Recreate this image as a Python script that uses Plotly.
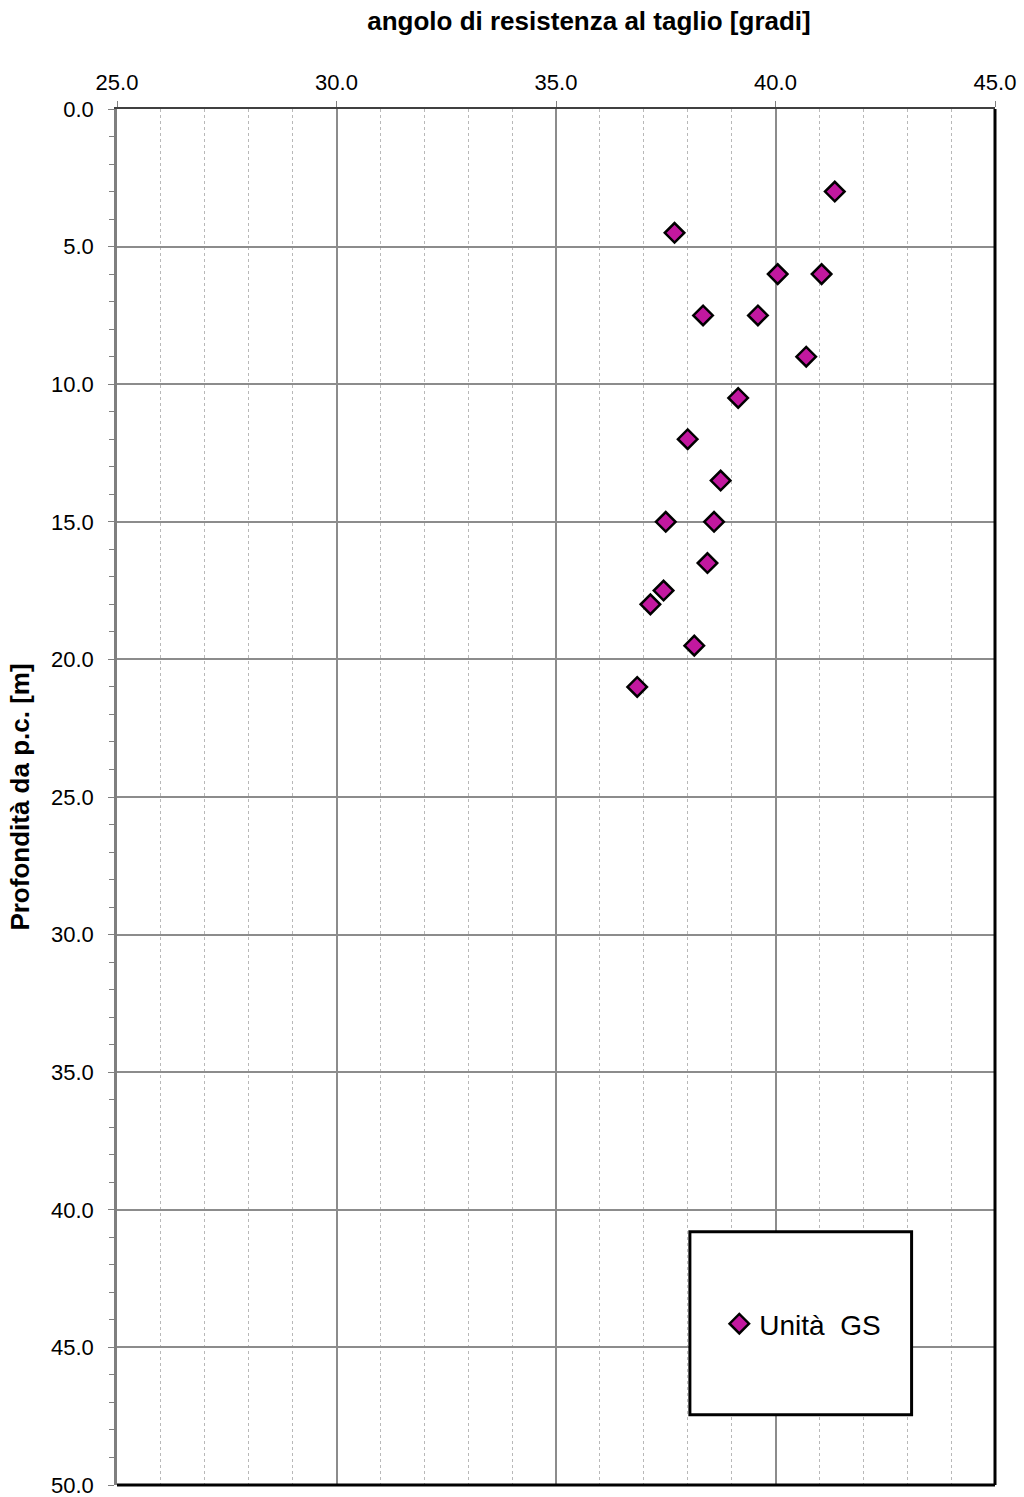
import plotly.graph_objects as go

angle = [41.35, 37.7, 40.05, 41.05, 38.35, 39.6, 40.7, 39.15, 38.0, 38.75,
         37.5, 38.6, 38.45, 37.45, 37.15, 38.15, 36.85]
depth = [3.0, 4.5, 6.0, 6.0, 7.5, 7.5, 9.0, 10.5, 12.0, 13.5,
         15.0, 15.0, 16.5, 17.5, 18.0, 19.5, 21.0]
series_name = "Unità  GS"
x_title = "angolo di resistenza al taglio [gradi]"
y_title = "Profondità da p.c. [m]"

fig = go.Figure()
fig.add_trace(go.Scatter(
    x=angle, y=depth, mode="markers", name=series_name,
    marker=dict(symbol="diamond", size=15, color="#C2189F",
                line=dict(color="black", width=2.5)),
))

font = "Liberation Sans, Arial, sans-serif"
fig.update_layout(
    width=1024, height=1497,
    margin=dict(l=117, r=29, t=109, b=12),
    paper_bgcolor="white", plot_bgcolor="white",
    font=dict(family=font, color="black", size=22),
    title=dict(text="<b>" + x_title + "</b>", x=589 / 1024, xanchor="center",
               y=1 - 21 / 1497, yanchor="middle", font=dict(size=26)),
    showlegend=True,
    legend=dict(x=0.686, y=0.117, xanchor="left", yanchor="middle",
                bgcolor="rgba(0,0,0,0)", borderwidth=0,
                font=dict(size=28, family=font)),
    xaxis=dict(
        side="top", range=[25, 45], dtick=5, tickformat=".1f",
        showgrid=True, gridcolor="#8c8c8c", gridwidth=1.5,
        ticks="outside", ticklen=6, tickcolor="#7f7f7f",
        showline=True, linecolor="#404040", linewidth=2, mirror=False,
        zeroline=False, automargin=False, ticklabeloverflow="allow",
        ticklabelstandoff=2,
        minor=dict(dtick=1, showgrid=True, gridcolor="#b8b8b8",
                   griddash="dot", gridwidth=1, ticks=""),
        tickfont=dict(size=22),
    ),
    yaxis=dict(
        range=[50, 0], dtick=5, tickformat=".1f",
        showgrid=True, gridcolor="#8c8c8c", gridwidth=1.5,
        ticks="outside", ticklen=6, tickcolor="#7f7f7f",
        showline=True, linecolor="#7f7f7f", linewidth=2.5,
        zeroline=False, automargin=False, ticklabeloverflow="allow",
        ticklabelstandoff=10,
        minor=dict(dtick=1, showgrid=False, ticks="outside", ticklen=5,
                   tickcolor="#7f7f7f"),
        title=dict(text="<b>" + y_title + "</b>", font=dict(size=26),
                   standoff=14),
        tickfont=dict(size=22),
    ),
)

# right and bottom heavy frame
fig.add_shape(type="line", xref="paper", yref="paper", x0=1, x1=1, y0=0, y1=1,
              line=dict(color="black", width=3))
fig.add_shape(type="line", xref="paper", yref="paper", x0=0, x1=1, y0=0, y1=0,
              line=dict(color="black", width=3))
# legend box
fig.add_shape(type="rect", xref="x", yref="y", x0=38.05, x1=43.1, y0=40.8, y1=47.45,
              fillcolor="white", line=dict(color="black", width=3), layer="above")

fig.write_html("out.html")
